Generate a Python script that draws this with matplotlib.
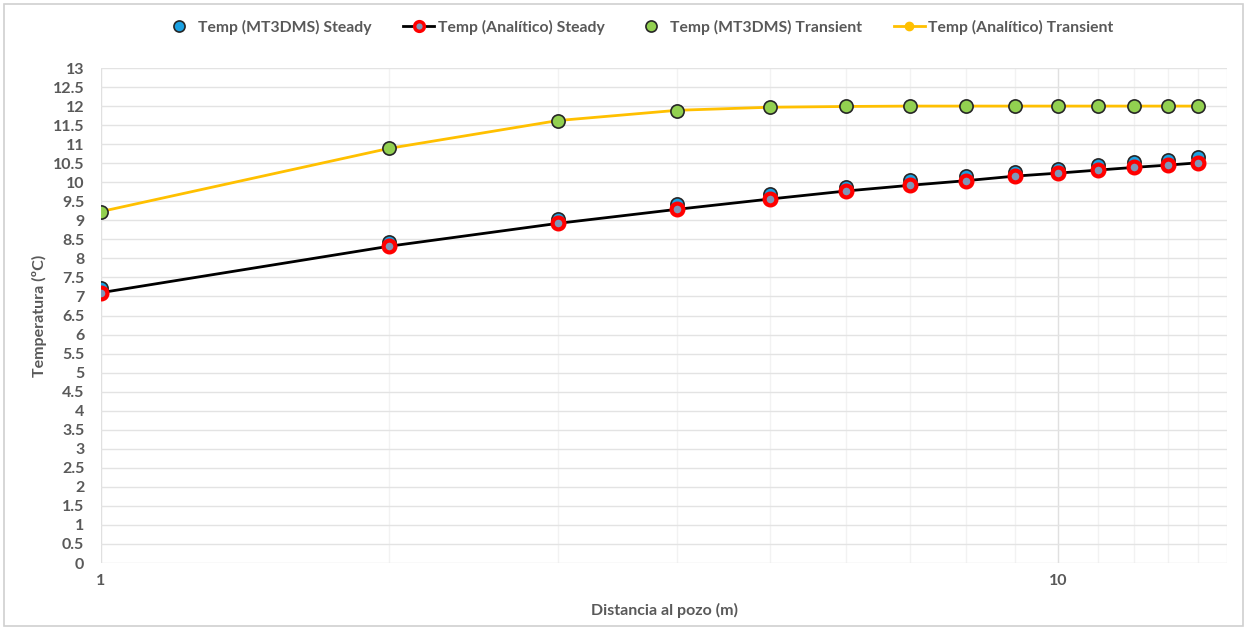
import matplotlib
matplotlib.use("Agg")
import matplotlib.pyplot as plt
from matplotlib.patches import Rectangle
from matplotlib.lines import Line2D
from matplotlib.ticker import FixedLocator, NullFormatter

plt.rcParams['font.family'] = ['Lato', 'DejaVu Sans']

# Distance from the well (m)
distance = [1, 2, 3, 4, 5, 6, 7, 8, 9, 10, 11, 12, 13, 14]

# Steady state temperatures (ºC)
steady_mt3dms = [7.23, 8.44, 9.03, 9.42, 9.68, 9.88, 10.05, 10.16, 10.26, 10.34, 10.44, 10.52, 10.58, 10.65]
steady_analytic = [7.10, 8.32, 8.92, 9.29, 9.56, 9.77, 9.92, 10.04, 10.16, 10.24, 10.32, 10.39, 10.45, 10.51]

# Transient temperatures (ºC)
transient_mt3dms = [9.23, 10.89, 11.61, 11.88, 11.97, 12.0, 12.0, 12.0, 12.0, 12.0, 12.0, 12.0, 12.0, 12.0]
transient_analytic = [9.23, 10.89, 11.62, 11.89, 11.97, 11.99, 12.0, 12.0, 12.0, 12.0, 12.0, 12.0, 12.0, 12.0]

labels = ["Temp (MT3DMS) Steady", "Temp (Analítico) Steady",
          "Temp (MT3DMS) Transient", "Temp (Analítico) Transient"]

text_color = "#595959"
grid_color = "#e3e3e3"

fig = plt.figure(figsize=(12.47, 6.28), dpi=100)
fig.patches.append(Rectangle((0.003, 0.003), 0.994, 0.990, transform=fig.transFigure,
                             fill=False, edgecolor="#d0d0d0", linewidth=1.2))

ax = fig.add_axes([0.081, 0.1035, 0.903, 0.7882])
ax.set_xscale('log')
ax.set_xlim(1, 15)
ax.set_ylim(0, 13)

# grid
ax.set_yticks([i * 0.5 for i in range(27)])
ax.set_yticklabels([("%g" % (i * 0.5)) for i in range(27)])
ax.xaxis.set_major_locator(FixedLocator([1, 10]))
ax.xaxis.set_minor_locator(FixedLocator([2, 3, 4, 5, 6, 7, 8, 9, 11, 12, 13, 14, 15]))
ax.xaxis.set_minor_formatter(NullFormatter())
ax.set_xticklabels(["1", "10"])
ax.grid(True, which='major', axis='y', color=grid_color, linewidth=1.0)
ax.grid(True, which='major', axis='x', color="#e0e0e0", linewidth=1.0)
ax.grid(True, which='minor', axis='x', color="#f2f2f2", linewidth=1.0)
ax.set_axisbelow(True)
for s in ax.spines.values():
    s.set_visible(False)
ax.tick_params(axis='both', which='both', length=0, colors=text_color, labelsize=11.5)
ax.tick_params(axis='y', pad=12)
ax.tick_params(axis='x', pad=8)
for t in ax.get_xticklabels() + ax.get_yticklabels():
    t.set_fontweight('bold')

# series
ax.plot(distance, transient_analytic, color="#ffc000", linewidth=2, zorder=3)
ax.plot(distance, transient_mt3dms, linestyle='none', marker='o', markersize=9.5,
        markerfacecolor="#92d050", markeredgecolor="#262626", markeredgewidth=1.2, zorder=4)
ax.plot(distance, steady_analytic, color="black", linewidth=2, zorder=3)
ax.plot(distance, steady_mt3dms, linestyle='none', marker='o', markersize=9.5,
        markerfacecolor="#1ba1e2", markeredgecolor="#262626", markeredgewidth=1.2, zorder=4)
ax.plot(distance, steady_analytic, linestyle='none', marker='o', markersize=8.5,
        markerfacecolor="#7f97b8", markeredgecolor="#ff0000", markeredgewidth=3.0, zorder=5)

ax.set_ylabel("Temperatura (ºC)", color=text_color, fontsize=11.5, fontweight='bold', labelpad=4)
ax.set_xlabel("Distancia al pozo (m)", color=text_color, fontsize=11.5, fontweight='bold', labelpad=11)

handles = [
    Line2D([], [], linestyle='none', marker='o', markersize=8, markerfacecolor="#1ba1e2",
           markeredgecolor="#262626", markeredgewidth=1.2),
    Line2D([], [], color='black', linewidth=2, marker='o', markersize=7,
           markerfacecolor="#7f97b8", markeredgecolor="#ff0000", markeredgewidth=2.5),
    Line2D([], [], linestyle='none', marker='o', markersize=8, markerfacecolor="#92d050",
           markeredgecolor="#262626", markeredgewidth=1.2),
    Line2D([], [], color='#ffc000', linewidth=2, marker='o', markersize=6,
           markerfacecolor="#ffc000", markeredgecolor="#ffc000"),
]
leg = fig.legend(handles, labels, loc='center', bbox_to_anchor=(0.512, 0.957), ncol=4,
                 frameon=False, handlelength=2.0, handletextpad=0.2, columnspacing=2.0,
                 prop={'size': 11.3, 'weight': 'bold'})
for t in leg.get_texts():
    t.set_color(text_color)

fig.savefig("out.png", dpi=100)
